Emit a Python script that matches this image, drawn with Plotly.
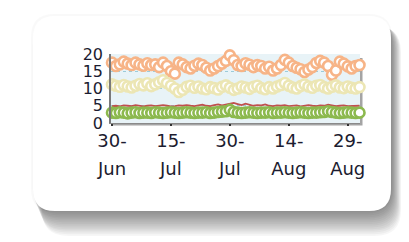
import pandas as pd
import plotly.graph_objects as go

# ---------------- data ----------------
start_date = "2013-06-30"
n_days = 64
orange_vals = [17.5, 16.5, 17.0, 17.8, 17.2, 16.8, 17.5, 17.0, 16.6, 17.3,
               16.8, 17.0, 16.2, 17.5, 16.5, 15.0, 14.3, 17.5, 17.0, 16.2,
               15.8, 16.6, 17.2, 16.8, 16.0, 15.2, 15.8, 16.5, 17.2, 18.0,
               19.6, 18.2, 16.8, 16.5, 17.3, 16.9, 16.2, 16.8, 16.5, 15.8,
               16.3, 15.2, 15.8, 16.8, 18.3, 17.5, 16.5, 16.0, 15.6, 14.8,
               15.5, 16.2, 17.4, 18.0, 17.5, 16.5, 14.0, 15.2, 17.8, 17.2,
               16.4, 15.8, 16.5, 16.8]
yellow_vals = [11.2, 10.8, 10.5, 11.0, 10.6, 10.3, 10.8, 11.3, 10.9, 11.5,
               10.7, 11.2, 11.8, 12.4, 11.6, 10.8, 10.0, 9.0, 9.6, 10.5,
               10.8, 10.2, 10.6, 10.0, 9.8, 10.4, 10.1, 9.7, 10.5, 10.9,
               10.2, 9.6, 10.0, 10.6, 10.3, 9.9, 10.5, 10.8, 10.1, 9.8,
               10.4, 10.0, 10.6, 11.0, 11.6, 10.8, 10.3, 10.0, 10.7, 11.2,
               10.6, 10.2, 10.8, 11.0, 10.4, 10.0, 10.5, 10.9, 10.3, 10.1,
               10.6, 10.2, 10.0, 10.4]
red_vals = [4.9, 5.0, 4.8, 5.1, 5.0, 4.9, 5.2, 5.0, 4.8, 5.0,
            5.1, 4.9, 5.0, 5.2, 5.0, 4.8, 4.9, 5.1, 5.0, 5.2,
            5.0, 4.9, 5.1, 5.3, 5.0, 4.9, 5.2, 5.4, 5.1, 5.3,
            5.6, 5.8, 5.5, 5.2, 5.6, 5.3, 5.0, 5.2, 5.1, 5.4,
            5.0, 4.9, 5.1, 5.0, 5.2, 4.9, 5.0, 5.1, 4.8, 5.0,
            5.2, 5.0, 4.9, 5.1, 5.0, 5.3, 5.0, 4.9, 5.0, 5.1,
            4.9, 5.0, 5.1, 5.0]
green_vals = [3.0, 2.9, 3.1, 3.0, 2.8, 3.0, 3.1, 2.9, 3.0, 3.0,
              2.9, 3.1, 3.0, 2.9, 3.0, 3.1, 3.0, 2.9, 3.0, 3.1,
              3.0, 2.9, 3.0, 3.0, 3.1, 2.9, 3.0, 3.2, 3.3, 3.4,
              3.8, 3.2, 3.0, 2.9, 3.0, 3.1, 3.0, 2.9, 3.0, 3.0,
              3.1, 2.9, 3.0, 3.0, 3.1, 3.0, 2.9, 3.0, 3.1, 3.0,
              2.9, 3.0, 3.0, 3.1, 3.2, 3.4, 3.2, 3.0, 2.9, 3.0,
              3.1, 3.0, 2.9, 3.0]
tick_dates = ["2013-06-30", "2013-07-15", "2013-07-30", "2013-08-14", "2013-08-29"]
tick_day = ["30-", "15-", "30-", "14-", "29-"]
tick_month = ["Jun", "Jul", "Jul", "Aug", "Aug"]
y_ticks = [0, 5, 10, 15, 20]

dates = pd.date_range(start_date, periods=n_days, freq="D")

# ---------------- layout geometry (pixels) ----------------
W, H = 409, 242
PL, PR, PT, PB = 103, 352, 46, 115   # plot area box


def px(x):
    return (x - PL) / (PR - PL)


def py(y):
    return (PB - y) / (PB - PT)


def rrect(x0, y0, x1, y1, r):
    X0, X1 = px(x0), px(x1)
    Y0, Y1 = py(y0), py(y1)
    rx = r / (PR - PL)
    ry = r / (PB - PT)
    return (f"M {X0+rx},{Y0} L {X1-rx},{Y0} Q {X1},{Y0} {X1},{Y0-ry} "
            f"L {X1},{Y1+ry} Q {X1},{Y1} {X1-rx},{Y1} "
            f"L {X0+rx},{Y1} Q {X0},{Y1} {X0},{Y1+ry} "
            f"L {X0},{Y0-ry} Q {X0},{Y0} {X0+rx},{Y0} Z")


shapes = []
# soft drop shadow of the card (stacked translucent layers)
n_layers = 14
for i in range(n_layers):
    t = (n_layers - i) / n_layers
    shapes.append(dict(type="path", xref="paper", yref="paper", layer="below",
                       path=rrect(24 + 10 * t, 12 + 6 * t, 384 + 9 * t, 204 + 24 * t, 26),
                       fillcolor="rgba(0,0,0,0.037)", line=dict(width=0)))
# faint outer halo
shapes.append(dict(type="path", xref="paper", yref="paper", layer="below",
                   path=rrect(23, 6, 384, 204, 23),
                   fillcolor="rgba(0,0,0,0.025)", line=dict(width=0)))
# the card
shapes.append(dict(type="path", xref="paper", yref="paper", layer="below",
                   path=rrect(25, 8, 383, 203, 22),
                   fillcolor="white", line=dict(width=0)))
# plot area drop shadow
shapes.append(dict(type="rect", xref="paper", yref="paper", layer="below",
                   x0=px(PL + 2), x1=px(PR + 2.5), y0=py(PB + 2.5), y1=py(PT + 4),
                   fillcolor="rgba(90,90,90,0.55)", line=dict(width=0)))
# plot area background
shapes.append(dict(type="rect", xref="paper", yref="paper", layer="below",
                   x0=0, x1=1, y0=0, y1=1,
                   fillcolor="#e8f3f7", line=dict(width=0)))

fig = go.Figure()
fig.add_trace(go.Scatter(x=dates, y=red_vals, mode="lines",
                         line=dict(color="#c0504d", width=1.8), cliponaxis=False,
                         hoverinfo="skip"))
marker_series = [
    (orange_vals, "#f7b487"),
    (yellow_vals, "#ece6b4"),
    (green_vals, "#8cb94e"),
]
for vals, col in marker_series:
    fig.add_trace(go.Scatter(x=dates, y=vals, mode="markers", cliponaxis=False,
                             marker=dict(size=10, color="white",
                                         line=dict(color=col, width=2.6)),
                             hoverinfo="skip"))

font_col = "#1c1c30"
xrange = ["2013-06-29 18:00", "2013-09-01 03:00"]
fig.update_layout(
    width=W, height=H,
    margin=dict(l=PL, r=W - PR, t=PT, b=H - PB, pad=0),
    paper_bgcolor="white", plot_bgcolor="rgba(0,0,0,0)",
    showlegend=False,
    shapes=shapes,
    font=dict(family="DejaVu Sans", color=font_col),
    xaxis=dict(range=xrange, tickmode="array", tickvals=tick_dates, ticktext=tick_day,
               showgrid=False, zeroline=False, showline=True, linecolor="#8a8a8a",
               linewidth=1.2, ticks="outside", ticklen=2, tickwidth=2, tickcolor="#333",
               tickfont=dict(size=18, color=font_col), ticklabelstandoff=-1),
    xaxis2=dict(range=xrange, overlaying="x", anchor="y", side="bottom",
                tickmode="array", tickvals=tick_dates, ticktext=tick_month,
                showgrid=False, zeroline=False, showline=False, ticks="",
                tickfont=dict(size=18, color=font_col), ticklabelstandoff=33),
    yaxis=dict(range=[0, 20], tickmode="array", tickvals=y_ticks,
               showgrid=True, gridcolor="#9ccbd8", griddash="dot", gridwidth=1,
               zeroline=False, showline=True, linecolor="#7a7a7a", linewidth=1.5,
               ticks="", tickfont=dict(size=16, color=font_col), ticklabelstandoff=3),
)
# invisible trace to activate xaxis2
fig.add_trace(go.Scatter(x=[dates[0]], y=[None], xaxis="x2", yaxis="y",
                         mode="markers", showlegend=False, hoverinfo="skip"))

fig.write_html("out.html")
